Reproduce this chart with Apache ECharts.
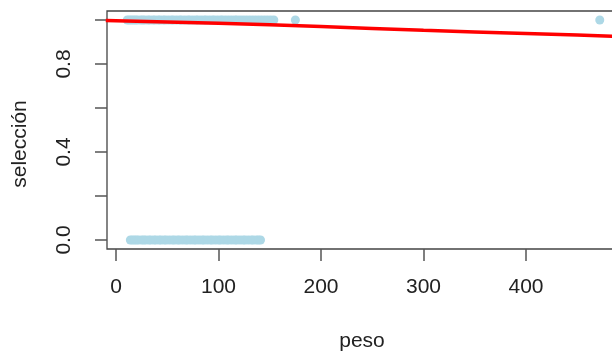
<!DOCTYPE html>
<html><head><meta charset="utf-8">
<script src="https://cdn.jsdelivr.net/npm/echarts@6/dist/echarts.min.js"></script>
<style>html,body{margin:0;padding:0;background:#fff}#c{width:612px;height:351px}</style>
</head><body><div id="c"></div>
<script>
// peso values of observations with selección = 1
const pesoSel1 = [11, 13, 15, 17, 19, 21, 24, 26, 28, 31, 33, 36, 38, 41, 43, 46, 48, 51, 54, 56, 59, 62, 64, 67, 70, 72, 75, 78, 80, 83, 86, 88, 91, 94, 96, 99, 102, 104, 107, 110, 113, 116, 118, 121, 124, 127, 130, 133, 136, 139, 142, 145, 148, 151, 154, 175, 472];
// peso values of observations with selección = 0
const pesoSel0 = [14, 16, 18, 20, 22, 25, 27, 29, 32, 34, 37, 39, 42, 44, 47, 49, 52, 55, 57, 60, 62, 65, 68, 70, 73, 76, 78, 81, 84, 86, 89, 92, 94, 97, 100, 102, 105, 108, 110, 113, 116, 118, 121, 124, 126, 129, 132, 134, 137, 139, 141];
// fitted curve
const curveX = [-10, 0, 50, 100, 150, 200, 250, 300, 350, 400, 450, 500];
const curveY = [0.998, 0.997, 0.991, 0.985, 0.978, 0.970, 0.962, 0.953, 0.946, 0.939, 0.932, 0.924];
const xTicks = [0, 100, 200, 300, 400];
const yTicks = [0, 0.2, 0.4, 0.6, 0.8, 1.0];
const yLabels = [0, 0.4, 0.8];

const FONT = 'Liberation Sans, Arial, sans-serif';
const chart = echarts.init(document.getElementById('c'), null, {renderer: 'canvas'});
chart.setOption({
  animation: false,
  backgroundColor: '#fff',
  grid: {left: 107, top: 11, width: 515, height: 238, outerBoundsMode: 'none', containLabel: false,
         show: true, borderColor: '#444', borderWidth: 1.3, backgroundColor: 'transparent'},
  xAxis: {
    type: 'value', min: -8.78, max: 493.7,
    axisLine: {show: false, onZero: false},
    splitLine: {show: false},
    axisTick: {show: true, inside: false, customValues: xTicks, length: 12, lineStyle: {color: '#555', width: 1.5}},
    axisLabel: {customValues: xTicks, margin: 28, color: '#222', fontSize: 21, fontFamily: FONT}
  },
  yAxis: {
    type: 'value', min: -0.041, max: 1.041,
    axisLine: {show: false, onZero: false},
    splitLine: {show: false},
    axisTick: {show: true, inside: false, customValues: yTicks, length: 12, lineStyle: {color: '#555', width: 1.5}},
    axisLabel: {customValues: yLabels, rotate: 90, margin: 32, color: '#222', fontSize: 21, fontFamily: FONT,
      formatter: v => Number(v).toFixed(1)}
  },
  graphic: [
    {type: 'text', x: 20, y: 144, rotation: Math.PI / 2,
     style: {text: 'selección', fill: '#222', font: '21px ' + FONT, textAlign: 'center', textVerticalAlign: 'middle'}},
    {type: 'text', x: 362, y: 341,
     style: {text: 'peso', fill: '#222', font: '21px ' + FONT, textAlign: 'center', textVerticalAlign: 'middle'}}
  ],
  series: [
    {type: 'scatter', symbol: 'circle', symbolSize: 9, itemStyle: {color: '#ADD8E6', opacity: 1},
     data: pesoSel1.map(x => [x, 1]), z: 2},
    {type: 'scatter', symbol: 'circle', symbolSize: 9, itemStyle: {color: '#ADD8E6', opacity: 1},
     data: pesoSel0.map(x => [x, 0]), z: 2},
    {type: 'line', showSymbol: false, smooth: false, clip: true, lineStyle: {color: '#FF0000', width: 3.5},
     data: curveX.map((x, i) => [x, curveY[i]]), z: 3}
  ]
});
</script></body></html>
